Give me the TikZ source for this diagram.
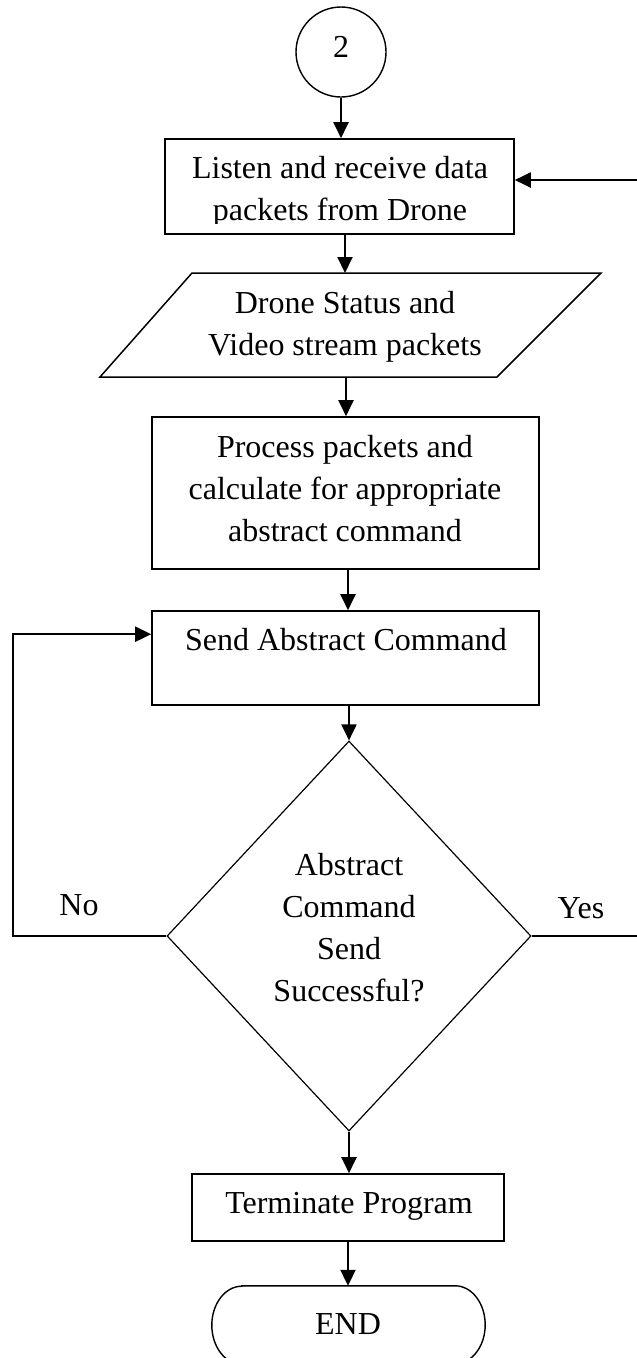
\documentclass[tikz,border=0pt]{standalone}
\usepackage{fontspec}
\setmainfont{Liberation Serif}
\usetikzlibrary{arrows.meta,shapes.geometric}

% centred lines whose reference point is the baseline of the first line
\newcommand\stk[1]{\vtop{\let\\\cr\baselineskip=42.3pt\lineskiplimit=-100pt\halign{\hfil##\hfil\cr#1\crcr}}}

\begin{document}
\begin{tikzpicture}[x=1pt,y=1pt,
  box/.style={draw, rectangle, line width=1.6pt, inner sep=0pt},
  txt/.style={inner sep=0pt, anchor=base, font=\fontsize{32}{42.3}\selectfont},
  arr/.style={line width=2pt, -{Triangle[length=16pt,width=15pt]}},
  link/.style={line width=2pt}]
\useasboundingbox (0,0) rectangle (637,-1358);

% connector "2"
\node[draw, circle, line width=1.4pt, minimum size=90pt, inner sep=0pt] (c2) at (341,-52) {};
\node[txt] (c2t) at (341,-57) {2};

% receive packets
\node[box, minimum width=349pt, minimum height=95pt] (b1) at (339.5,-186.5) {};
\begin{scope}
  \clip (b1.north west) rectangle (514,-223.5);
  \node[txt] (b1t) at (340,-178.5) {\stk{Listen and receive data\\packets from Drone}};
\end{scope}

% input/output parallelogram
\draw[line width=1.5pt] (192,-273) -- (601,-273) -- (497,-377) -- (100,-377) -- cycle;
\coordinate (pin) at (345,-273);
\coordinate (pout) at (346,-377);
\node[txt] (pt) at (345,-313) {\stk{Drone Status and\\Video stream packets}};

% processing
\node[box, minimum width=387pt, minimum height=152pt] (b3) at (345.5,-493) {};
\node[txt] (b3t) at (345,-457) {\stk{Process packets and\\calculate for appropriate\\abstract command}};

% send command
\node[box, minimum width=387pt, minimum height=94pt] (b4) at (345.5,-658) {};
\node[txt] (b4t) at (346,-650) {Send Abstract Command};

% decision
\node[draw, diamond, line width=1.2pt, minimum width=364pt, minimum height=390pt, inner sep=0pt] (dec) at (349,-936) {};
\node[txt] (dect) at (349,-875) {\stk{Abstract\\Command\\Send\\Successful?}};
\node[txt] (no) at (79,-915) {No};
\node[txt] (yes) at (581,-918) {Yes};

% terminate
\node[box, minimum width=312pt, minimum height=67pt] (term) at (348,-1207.5) {};
\node[txt] (termt) at (349,-1213) {Terminate Program};

% end terminator
\node[inner sep=0pt, minimum width=273pt, minimum height=78pt] (endn) at (348.5,-1325) {};
\draw[line width=1.4pt] ([xshift=30pt]endn.north west) -- ([xshift=-30pt]endn.north east)
  arc[start angle=90, end angle=-90, x radius=30pt, y radius=39pt]
  -- ([xshift=30pt]endn.south west)
  arc[start angle=270, end angle=90, x radius=30pt, y radius=39pt] -- cycle;
\node[txt] (endt) at (348,-1334) {END};

% flow
\draw[arr] (c2.south) -- (c2.south |- b1.north);
\draw[arr] (b1.south -| pin) -- (pin);
\draw[arr] (pout) -- (pout |- b3.north);
\draw[arr] ([xshift=2.5pt]b3.south) -- ([xshift=2.5pt]b4.north);
\draw[arr] (b4.south -| dec.north) -- (dec.north);
\draw[arr] (dec.south) -- (dec.south |- term.north);
\draw[arr] (term.south) -- (term.south |- endn.north);

% loops
\coordinate (nocorner) at (13,-936);
\draw[arr] (dec.west) -- (nocorner) |- ([yshift=-24pt]b4.north west);
\coordinate (yesend) at (637,-936);
\draw[link] (dec.east) -- (yesend);
\coordinate (fbstart) at (637,-180);
\draw[arr] (fbstart) -- (fbstart -| b1.east);
\end{tikzpicture}
\end{document}
